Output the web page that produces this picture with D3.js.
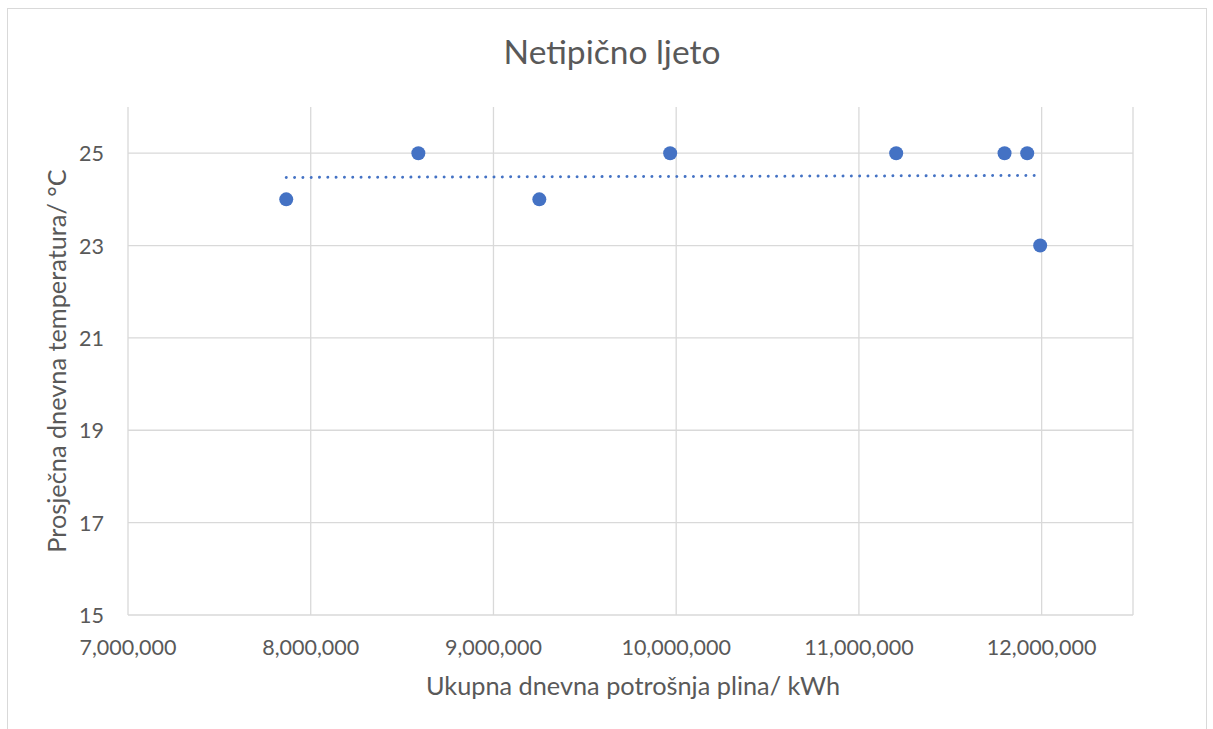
<!DOCTYPE html>
<html>
<head>
<meta charset="utf-8">
<script src="https://cdn.jsdelivr.net/npm/d3@7"></script>
<style>
  body { margin: 0; background: #fff; }
  text { font-family: Lato, "Open Sans", sans-serif; fill: #595959; }
</style>
</head>
<body>
<div id="chart"></div>
<script>
// Data
const potrosnja = [7866000, 8589000, 9251000, 9967000, 11204000, 11797000, 11921000, 11992000];
const temperatura = [24, 25, 24, 25, 25, 25, 25, 23];
const xTicks = [7000000, 8000000, 9000000, 10000000, 11000000, 12000000];
const yTicks = [15, 17, 19, 21, 23, 25];

const w = 1213, h = 729;
const plotLeft = 128, plotRight = 1133, plotTop = 107, plotBottom = 615;

const svg = d3.select('#chart')
  .append('svg')
  .attr('width', w)
  .attr('height', h);

// chart border
svg.append('rect')
  .attr('x', 7.5).attr('y', 8.5)
  .attr('width', 1199).attr('height', 740)
  .attr('fill', 'none')
  .attr('stroke', '#d9d9d9');

const xScale = d3.scaleLinear().domain([7000000, 12500000]).range([plotLeft, plotRight]);
const yScale = d3.scaleLinear().domain([15, 26]).range([plotBottom, plotTop]);

// gridlines
svg.append('g').selectAll('line')
  .data(xTicks.concat([12500000]))
  .enter().append('line')
  .attr('x1', d => xScale(d)).attr('x2', d => xScale(d))
  .attr('y1', plotTop).attr('y2', plotBottom)
  .attr('stroke', '#d9d9d9').attr('stroke-width', 1.3);

svg.append('g').selectAll('line')
  .data(yTicks)
  .enter().append('line')
  .attr('x1', plotLeft).attr('x2', plotRight)
  .attr('y1', d => yScale(d)).attr('y2', d => yScale(d))
  .attr('stroke', '#d9d9d9').attr('stroke-width', 1.3);

// tick labels
svg.append('g').selectAll('text')
  .data(xTicks)
  .enter().append('text')
  .attr('x', d => xScale(d))
  .attr('y', 655)
  .attr('text-anchor', 'middle')
  .style('font-size', '21.5px')
  .text(d => d3.format(',')(d));

svg.append('g').selectAll('text')
  .data(yTicks)
  .enter().append('text')
  .attr('x', 104)
  .attr('y', d => yScale(d) + 8)
  .attr('text-anchor', 'end')
  .style('font-size', '21.5px')
  .text(d => d);

// trendline (least squares)
const n = potrosnja.length;
const mx = d3.mean(potrosnja), my = d3.mean(temperatura);
let sxy = 0, sxx = 0;
for (let i = 0; i < n; i++) {
  sxy += (potrosnja[i] - mx) * (temperatura[i] - my);
  sxx += (potrosnja[i] - mx) * (potrosnja[i] - mx);
}
const slope = sxy / sxx, icept = my - slope * mx;
const x0 = d3.min(potrosnja), x1 = d3.max(potrosnja);

svg.append('line')
  .attr('x1', xScale(x0)).attr('y1', yScale(icept + slope * x0))
  .attr('x2', xScale(x1)).attr('y2', yScale(icept + slope * x1))
  .attr('stroke', '#4472c4')
  .attr('stroke-width', 3)
  .attr('stroke-linecap', 'round')
  .attr('stroke-dasharray', '0.01 8.3');

// points
svg.append('g').selectAll('circle')
  .data(potrosnja)
  .enter().append('circle')
  .attr('cx', d => xScale(d))
  .attr('cy', (d, i) => yScale(temperatura[i]))
  .attr('r', 7)
  .attr('fill', '#4472c4');

// titles
svg.append('text')
  .attr('x', 612).attr('y', 64)
  .attr('text-anchor', 'middle')
  .style('font-size', '33.5px')
  .text('Netipično ljeto');

svg.append('text')
  .attr('x', 633).attr('y', 695)
  .attr('text-anchor', 'middle')
  .style('font-size', '25.3px')
  .text('Ukupna dnevna potrošnja plina/ kWh');

svg.append('text')
  .attr('transform', 'translate(66,' + 361 + ') rotate(-90)')
  .attr('text-anchor', 'middle')
  .style('font-size', '25.3px')
  .text('Prosječna dnevna temperatura/ °C');
</script>
</body>
</html>
